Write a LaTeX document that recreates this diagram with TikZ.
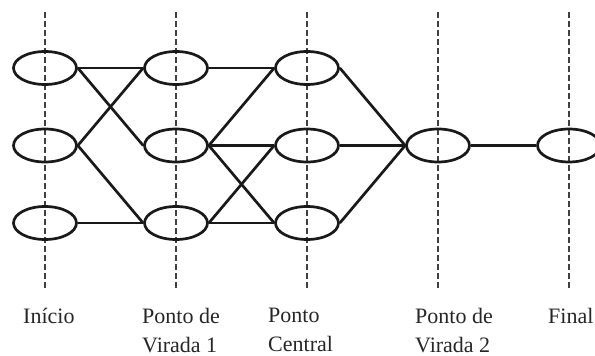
\documentclass[tikz,border=0pt]{standalone}
\usepackage{fontspec}
\setmainfont{Liberation Serif}
\usetikzlibrary{shapes.geometric}
\begin{document}
\begin{tikzpicture}[x=1pt,y=-1pt,
  st/.style={ellipse,draw=black!90,line width=2.7pt,minimum width=63pt,minimum height=33pt,inner sep=0pt},
  link/.style={line width=2.7pt,draw=black!90},
  guide/.style={line width=1.1pt,draw=black!75,dash pattern=on 6pt off 3pt},
  lbl/.style={anchor=north west,inner sep=0pt,align=left,text=black!85,font=\fontsize{22}{29}\selectfont}]
\useasboundingbox (0,0) rectangle (595,356);
\clip (0,0) rectangle (595,356);
% guide lines
\foreach \n/\x in {1/45,2/176,3/307,4/438,5/569}{
  \coordinate (gt\n) at (\x,12);
  \coordinate (gb\n) at (\x,288);
  \draw[guide] (gt\n) -- (gb\n);
}
% states
\node[st] (a1) at (45,68) {};
\node[st] (a2) at (45,145.5) {};
\node[st] (a3) at (45,223) {};
\node[st] (b1) at (176,68) {};
\node[st] (b2) at (176,145.5) {};
\node[st] (b3) at (176,223) {};
\node[st] (c1) at (307,68) {};
\node[st] (c2) at (307,145.5) {};
\node[st] (c3) at (307,223) {};
\node[st] (d) at (438,145.5) {};
\node[st] (e) at (569,145.5) {};
% links
\draw[link] (a1.east) -- (b1.west);
\draw[link] (a1.east) -- (b2.west);
\draw[link] (a2.east) -- (b1.west);
\draw[link] (a2.east) -- (b3.west);
\draw[link] (a3.east) -- (b3.west);
\draw[link] (b1.east) -- (c1.west);
\draw[link] (b2.east) -- (c1.west);
\draw[link] (b2.east) -- (c2.west);
\draw[link] (b2.east) -- (c3.west);
\draw[link] (b3.east) -- (c2.west);
\draw[link] (b3.east) -- (c3.west);
\draw[link] (c1.east) -- (d.west);
\draw[link] (c2.east) -- (d.west);
\draw[link] (c3.east) -- (d.west);
\draw[link] (d.east) -- (e.west);
% labels
\node[lbl] (l1) at (23,308) {Início};
\node[lbl] (l2) at (142,308) {Ponto de\\Virada 1};
\node[lbl] (l3) at (268,308) {Ponto\\Central};
\node[lbl] (l4) at (415,308) {Ponto de\\Virada 2};
\node[lbl] (l5) at (548,308) {Final};
\end{tikzpicture}
\end{document}
